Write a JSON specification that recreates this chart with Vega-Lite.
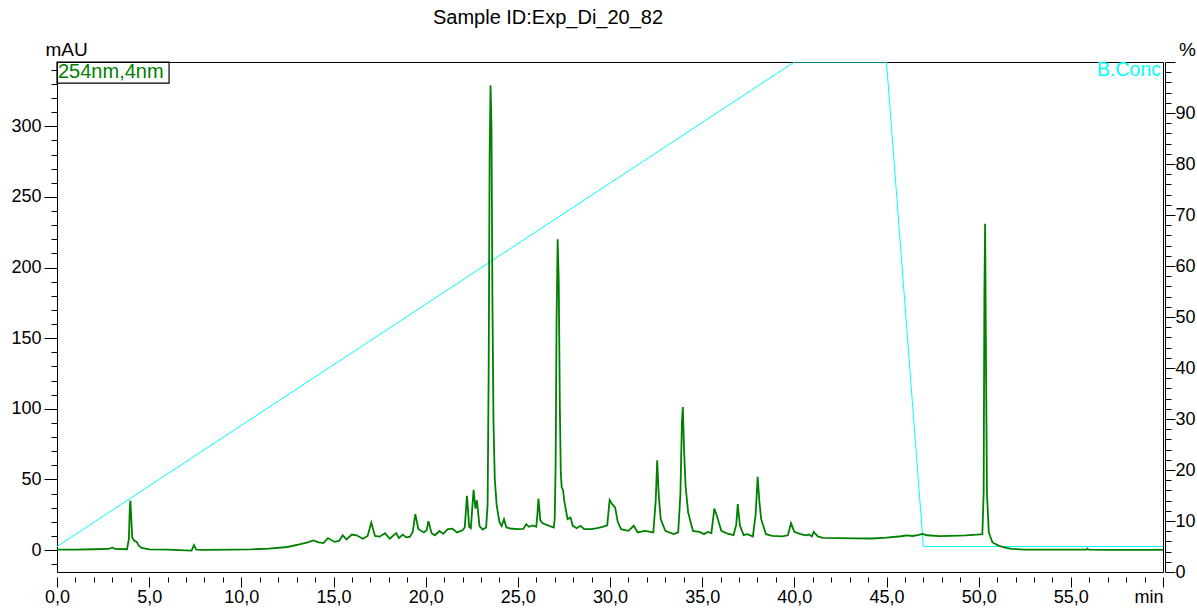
{
  "$schema": "https://vega.github.io/schema/vega-lite/v6.json",
  "width": 1106,
  "height": 510,
  "autosize": {"type": "none"},
  "padding": {"left": 57, "top": 62, "right": 34, "bottom": 38},
  "background": "white",
  "title": {"text": "Sample ID:Exp_Di_20_82", "fontSize": 20, "fontWeight": "normal", "font": "Liberation Sans", "color": "black", "anchor": "middle", "frame": "group", "dx": -62, "offset": 12},
  "config": {
    "font": "Liberation Sans",
    "view": {"stroke": "black", "strokeWidth": 1},
    "axis": {"grid": false, "domainColor": "black", "tickColor": "black", "labelColor": "black", "titleColor": "black", "labelFont": "Liberation Sans", "titleFont": "Liberation Sans", "labelFontSize": 18, "titleFontSize": 19, "titleFontWeight": "normal", "labelOverlap": false, "tickWidth": 1, "domainWidth": 1}
  },
  "datasets": {
    "chroma": [
      {"t": 0.0, "mAU": 0.3}, {"t": 1.0, "mAU": 0.4}, {"t": 2.0, "mAU": 0.6}, {"t": 2.8, "mAU": 0.8}, {"t": 3.0, "mAU": 1.9}, {"t": 3.15, "mAU": 0.8},
      {"t": 3.8, "mAU": 0.6}, {"t": 3.9, "mAU": 8}, {"t": 3.95, "mAU": 30}, {"t": 3.98, "mAU": 35}, {"t": 4.02, "mAU": 25}, {"t": 4.08, "mAU": 9},
      {"t": 4.2, "mAU": 6.5}, {"t": 4.32, "mAU": 5.9}, {"t": 4.45, "mAU": 3}, {"t": 4.6, "mAU": 1.5}, {"t": 5.0, "mAU": 0.5}, {"t": 6.0, "mAU": 0.3},
      {"t": 7.3, "mAU": -0.3}, {"t": 7.43, "mAU": 3.5}, {"t": 7.55, "mAU": 0.3}, {"t": 8.0, "mAU": 0.2}, {"t": 9.5, "mAU": 0.3}, {"t": 10.5, "mAU": 0.5},
      {"t": 11.5, "mAU": 1.0}, {"t": 12.5, "mAU": 2.2}, {"t": 13.2, "mAU": 4.2}, {"t": 13.6, "mAU": 5.5}, {"t": 13.9, "mAU": 6.8}, {"t": 14.2, "mAU": 5.5},
      {"t": 14.45, "mAU": 5.0}, {"t": 14.7, "mAU": 8.5}, {"t": 15.05, "mAU": 5.8}, {"t": 15.3, "mAU": 6.5}, {"t": 15.5, "mAU": 10.5}, {"t": 15.7, "mAU": 7.5},
      {"t": 16.0, "mAU": 11}, {"t": 16.25, "mAU": 10.5}, {"t": 16.6, "mAU": 8}, {"t": 16.85, "mAU": 10}, {"t": 17.05, "mAU": 19.5}, {"t": 17.25, "mAU": 10},
      {"t": 17.5, "mAU": 9.5}, {"t": 17.8, "mAU": 12}, {"t": 18.05, "mAU": 8}, {"t": 18.4, "mAU": 12}, {"t": 18.55, "mAU": 8.5}, {"t": 18.75, "mAU": 11},
      {"t": 18.95, "mAU": 9}, {"t": 19.15, "mAU": 9.5}, {"t": 19.3, "mAU": 13}, {"t": 19.44, "mAU": 25.5}, {"t": 19.6, "mAU": 15}, {"t": 19.9, "mAU": 12.5},
      {"t": 20.05, "mAU": 14}, {"t": 20.15, "mAU": 20.5}, {"t": 20.32, "mAU": 12}, {"t": 20.5, "mAU": 10.5}, {"t": 20.75, "mAU": 13.5}, {"t": 20.95, "mAU": 11.5},
      {"t": 21.2, "mAU": 14.8}, {"t": 21.45, "mAU": 15.2}, {"t": 21.7, "mAU": 12.5}, {"t": 22.0, "mAU": 14}, {"t": 22.12, "mAU": 16}, {"t": 22.24, "mAU": 38.4},
      {"t": 22.36, "mAU": 16.5}, {"t": 22.45, "mAU": 15.5}, {"t": 22.6, "mAU": 42.6}, {"t": 22.7, "mAU": 29.4}, {"t": 22.78, "mAU": 35.3}, {"t": 22.92, "mAU": 17},
      {"t": 23.1, "mAU": 14.5}, {"t": 23.28, "mAU": 16}, {"t": 23.36, "mAU": 32}, {"t": 23.42, "mAU": 130}, {"t": 23.47, "mAU": 280}, {"t": 23.52, "mAU": 329},
      {"t": 23.57, "mAU": 300}, {"t": 23.62, "mAU": 180}, {"t": 23.68, "mAU": 90}, {"t": 23.75, "mAU": 50}, {"t": 23.85, "mAU": 32}, {"t": 24.0, "mAU": 20},
      {"t": 24.12, "mAU": 17}, {"t": 24.25, "mAU": 21.9}, {"t": 24.38, "mAU": 16}, {"t": 24.6, "mAU": 15.3}, {"t": 25.0, "mAU": 14.8}, {"t": 25.3, "mAU": 15}, {"t": 25.46, "mAU": 18.4},
      {"t": 25.6, "mAU": 16.5}, {"t": 25.8, "mAU": 17.5}, {"t": 26.0, "mAU": 16.5}, {"t": 26.06, "mAU": 25}, {"t": 26.12, "mAU": 36.5}, {"t": 26.22, "mAU": 21},
      {"t": 26.35, "mAU": 19}, {"t": 26.7, "mAU": 17.2}, {"t": 26.95, "mAU": 16}, {"t": 27.0, "mAU": 22}, {"t": 27.05, "mAU": 60}, {"t": 27.1, "mAU": 160},
      {"t": 27.16, "mAU": 220}, {"t": 27.22, "mAU": 190}, {"t": 27.28, "mAU": 100}, {"t": 27.33, "mAU": 55}, {"t": 27.38, "mAU": 44.3}, {"t": 27.45, "mAU": 42.6}, {"t": 27.53, "mAU": 33.9},
      {"t": 27.7, "mAU": 21.9}, {"t": 27.86, "mAU": 23}, {"t": 27.98, "mAU": 17.2}, {"t": 28.2, "mAU": 15.5}, {"t": 28.4, "mAU": 17.2}, {"t": 28.6, "mAU": 14.8},
      {"t": 29.0, "mAU": 14.8}, {"t": 29.3, "mAU": 15.5}, {"t": 29.6, "mAU": 16.5}, {"t": 29.85, "mAU": 17.5}, {"t": 29.98, "mAU": 35.5}, {"t": 30.12, "mAU": 32.5},
      {"t": 30.28, "mAU": 30}, {"t": 30.42, "mAU": 20}, {"t": 30.6, "mAU": 14.8}, {"t": 31.0, "mAU": 13.6}, {"t": 31.29, "mAU": 17.2}, {"t": 31.5, "mAU": 12.5},
      {"t": 31.9, "mAU": 13.6}, {"t": 32.35, "mAU": 12.5}, {"t": 32.48, "mAU": 35}, {"t": 32.56, "mAU": 63.6}, {"t": 32.64, "mAU": 40}, {"t": 32.75, "mAU": 22},
      {"t": 33.0, "mAU": 13.6}, {"t": 33.45, "mAU": 11.3}, {"t": 33.7, "mAU": 12.5}, {"t": 33.82, "mAU": 40}, {"t": 33.9, "mAU": 90}, {"t": 33.95, "mAU": 101.2},
      {"t": 34.02, "mAU": 70}, {"t": 34.1, "mAU": 45.4}, {"t": 34.24, "mAU": 26.6}, {"t": 34.5, "mAU": 13.6}, {"t": 34.85, "mAU": 12.9}, {"t": 35.1, "mAU": 11.3},
      {"t": 35.3, "mAU": 12.9}, {"t": 35.5, "mAU": 12}, {"t": 35.66, "mAU": 29.4}, {"t": 35.8, "mAU": 24.2}, {"t": 36.04, "mAU": 13.6}, {"t": 36.3, "mAU": 12},
      {"t": 36.7, "mAU": 10.6}, {"t": 36.85, "mAU": 18}, {"t": 36.93, "mAU": 32.5}, {"t": 37.05, "mAU": 17.2}, {"t": 37.25, "mAU": 10.6}, {"t": 37.45, "mAU": 11.3},
      {"t": 37.75, "mAU": 9.7}, {"t": 37.9, "mAU": 25}, {"t": 38.01, "mAU": 51.8}, {"t": 38.1, "mAU": 35}, {"t": 38.2, "mAU": 21.9}, {"t": 38.46, "mAU": 11.3},
      {"t": 38.8, "mAU": 10.1}, {"t": 39.35, "mAU": 9.7}, {"t": 39.65, "mAU": 10.5}, {"t": 39.82, "mAU": 19.1}, {"t": 40.0, "mAU": 12.9}, {"t": 40.3, "mAU": 11.5},
      {"t": 40.6, "mAU": 10.5}, {"t": 40.8, "mAU": 11}, {"t": 40.95, "mAU": 9.7}, {"t": 41.05, "mAU": 12.9}, {"t": 41.27, "mAU": 9.7}, {"t": 41.55, "mAU": 8.7},
      {"t": 42.4, "mAU": 8.5}, {"t": 43.3, "mAU": 8.3}, {"t": 44.2, "mAU": 8.2}, {"t": 45.0, "mAU": 8.8}, {"t": 45.8, "mAU": 9.8}, {"t": 46.1, "mAU": 10.4},
      {"t": 46.4, "mAU": 10}, {"t": 46.7, "mAU": 10.6}, {"t": 46.95, "mAU": 11.5}, {"t": 47.2, "mAU": 10.5}, {"t": 47.86, "mAU": 9.9}, {"t": 48.5, "mAU": 10.1},
      {"t": 49.3, "mAU": 10.4}, {"t": 49.9, "mAU": 10.9}, {"t": 50.2, "mAU": 11.3}, {"t": 50.27, "mAU": 40}, {"t": 50.31, "mAU": 180}, {"t": 50.35, "mAU": 231},
      {"t": 50.39, "mAU": 150}, {"t": 50.45, "mAU": 40}, {"t": 50.55, "mAU": 12.5}, {"t": 50.75, "mAU": 5.4}, {"t": 51.1, "mAU": 3.0}, {"t": 51.5, "mAU": 1.6},
      {"t": 51.8, "mAU": 0.9}, {"t": 52.5, "mAU": 0.4}, {"t": 53.5, "mAU": 0.3}, {"t": 55.0, "mAU": 0.4}, {"t": 55.85, "mAU": 0.3}, {"t": 55.9, "mAU": 1},
      {"t": 55.95, "mAU": 0.3}, {"t": 57.0, "mAU": 0.2}, {"t": 58.5, "mAU": 0.2}, {"t": 60.0, "mAU": 0.1}
    ],
    "conc": [
      {"t": 0, "pct": 5}, {"t": 40, "pct": 100}, {"t": 45, "pct": 100}, {"t": 47, "pct": 5}, {"t": 60, "pct": 5}
    ]
  },
  "layer": [
    {
      "layer": [
        {
          "data": {"name": "conc"},
          "mark": {"type": "line", "strokeWidth": 1, "color": "#00FFFF", "clip": true},
          "encoding": {
            "x": {"field": "t", "type": "quantitative", "scale": {"domain": [0, 60], "nice": false, "zero": false},
              "axis": {"orient": "bottom", "title": null, "tickCount": 80, "values": [0,1,2,3,4,5,6,7,8,9,10,11,12,13,14,15,16,17,18,19,20,21,22,23,24,25,26,27,28,29,30,31,32,33,34,35,36,37,38,39,40,41,42,43,44,45,46,47,48,49,50,51,52,53,54,55,56,57,58,59,60],
                "labelExpr": "datum.value % 5 === 0 ? (datum.value === 60 ? 'min' : replace(format(datum.value, '.1f'), '.', ',')) : ''",
                "labelAlign": {"condition": {"test": "datum.value === 60", "value": "right"}, "value": "center"},
                "labelFlush": false, "domain": false, "offset": 5,
                "tickSize": {"condition": {"test": "datum.value % 5 === 0", "value": 10}, "value": 5},
                "labelPadding": 1}},
            "y": {"field": "pct", "type": "quantitative", "scale": {"domain": [0, 100], "nice": false, "zero": false},
              "axis": {"orient": "right", "tickCount": 80, "values": [0,2,4,6,8,10,12,14,16,18,20,22,24,26,28,30,32,34,36,38,40,42,44,46,48,50,52,54,56,58,60,62,64,66,68,70,72,74,76,78,80,82,84,86,88,90,92,94,96,98,100],
                "labelExpr": "datum.value % 10 === 0 && datum.value < 100 ? datum.label : ''",
                "tickSize": {"condition": {"test": "datum.value % 10 === 0", "value": 10}, "value": 6},
                "offset": 2, "labelPadding": 0, "labelFlush": false,
                "title": "%", "titleAngle": 0, "titleAlign": "center", "titleBaseline": "bottom", "titleAnchor": "end", "titleX": 22, "titleY": -3}}
          }
        },
        {
          "data": {"values": [{"label": "B.Conc"}]},
          "mark": {"type": "text", "color": "#00FFFF", "font": "Liberation Sans", "fontSize": 19.5, "align": "right", "baseline": "top", "dx": -2, "dy": -1},
          "encoding": {
            "x": {"datum": 60},
            "y": {"datum": 100},
            "text": {"field": "label", "type": "nominal"}
          }
        }
      ]
    },
    {
      "layer": [
        {
          "data": {"name": "chroma"},
          "mark": {"type": "line", "strokeWidth": 1.8, "color": "#008000", "clip": true},
          "encoding": {
            "x": {"field": "t", "type": "quantitative"},
            "y": {"field": "mAU", "type": "quantitative", "scale": {"domain": [-15.5, 345.5], "nice": false, "zero": false},
              "axis": {"orient": "left", "tickCount": 80, "values": [-10,0,10,20,30,40,50,60,70,80,90,100,110,120,130,140,150,160,170,180,190,200,210,220,230,240,250,260,270,280,290,300,310,320,330,340],
                "labelExpr": "datum.value >= 0 && datum.value % 50 === 0 ? datum.label : ''",
                "tickSize": {"condition": {"test": "datum.value % 50 === 0", "value": 13}, "value": 6},
                "labelPadding": 3, "labelFlush": false,
                "title": "mAU", "titleAngle": 0, "titleAlign": "center", "titleBaseline": "bottom", "titleAnchor": "end", "titleX": 9, "titleY": -3}}
          }
        },
        {
          "data": {"values": [{"x0": 0, "x1": 6.08, "y0": 345.5, "y1": 330.6}]},
          "mark": {"type": "rect", "fill": null, "stroke": "black", "strokeWidth": 1.2},
          "encoding": {
            "x": {"field": "x0", "type": "quantitative"},
            "x2": {"field": "x1"},
            "y": {"field": "y0", "type": "quantitative"},
            "y2": {"field": "y1"}
          }
        },
        {
          "data": {"values": [{"label": "254nm,4nm"}]},
          "mark": {"type": "text", "color": "#008000", "font": "Liberation Sans", "fontSize": 20, "align": "left", "baseline": "top", "dx": 1, "dy": 0},
          "encoding": {
            "x": {"datum": 0},
            "y": {"datum": 345.5},
            "text": {"field": "label", "type": "nominal"}
          }
        }
      ]
    }
  ],
  "resolve": {"scale": {"y": "independent"}}
}
